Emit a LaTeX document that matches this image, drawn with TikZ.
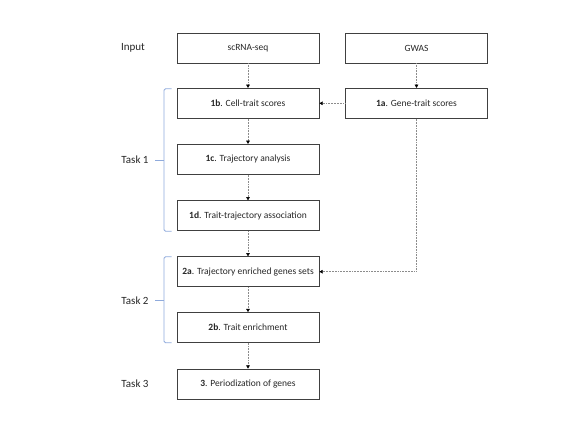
\documentclass[tikz,border=0pt]{standalone}
\usepackage{fontspec}
\setmainfont{Carlito}
\usetikzlibrary{arrows.meta}
\definecolor{bracecol}{HTML}{8FAADC}
\definecolor{boxline}{HTML}{404040}
\definecolor{txt}{HTML}{262626}
\tikzset{
  stepbox/.style={draw=boxline, line width=0.8pt, minimum width=142pt, minimum height=30pt, inner sep=0pt, font=\fontsize{9.5}{11}\selectfont, text=txt},
  tasklbl/.style={font=\fontsize{11}{13}\selectfont, text=txt, inner sep=0pt},
  flow/.style={draw=black!45, densely dotted, line width=0.55pt, -{Triangle[length=3.2pt,width=3.6pt,black]}},
  brace/.style={draw=bracecol, line width=0.8pt, rounded corners=1.5pt}
}
\begin{document}
\begin{tikzpicture}[x=1pt,y=1pt]
\useasboundingbox (0,0) rectangle (577,-433);
\node[stepbox] (scrna) at (248,-48) {scRNA-seq};
\node[stepbox] (gwas) at (416.5,-48) {GWAS};
\node[stepbox] (b1) at (248,-103.3) {\textbf{1b}. Cell-trait scores};
\node[stepbox] (a1) at (416.5,-103.3) {\textbf{1a}. Gene-trait scores};
\node[stepbox] (c1) at (248,-159.3) {\textbf{1c}. Trajectory analysis};
\node[stepbox] (d1) at (248,-215.7) {\textbf{1d}. Trait-trajectory association};
\node[stepbox] (a2) at (248,-271.7) {\textbf{2a}. Trajectory enriched genes sets};
\node[stepbox] (b2) at (248,-327.5) {\textbf{2b}. Trait enrichment};
\node[stepbox] (t3) at (248,-384) {\textbf{3}. Periodization of genes};

\node[tasklbl] (lin) at (133,-48) {Input};
\node[tasklbl] (lt1) at (135,-160) {Task 1};
\node[tasklbl] (lt2) at (135,-300.7) {Task 2};
\node[tasklbl] (lt3) at (135,-384) {Task 3};

\draw[flow] (scrna) -- (b1);
\draw[flow] (gwas) -- (a1);
\draw[flow] (a1) -- (b1);
\draw[flow] (b1) -- (c1);
\draw[flow] (c1) -- (d1);
\draw[flow] (d1) -- (a2);
\draw[flow] (a1.south) |- (a2.east);
\draw[flow] (a2) -- (b2);
\draw[flow] (b2) -- (t3);

\draw[brace] (171.7,-88.7) -- (164,-88.7) -- (164,-231.3) -- (171.7,-231.3);
\draw[brace] (164,-160) -- (155,-160);
\draw[brace] (171.7,-256.7) -- (164,-256.7) -- (164,-342.7) -- (171.7,-342.7);
\draw[brace] (164,-300.7) -- (155,-300.7);
\end{tikzpicture}
\end{document}
